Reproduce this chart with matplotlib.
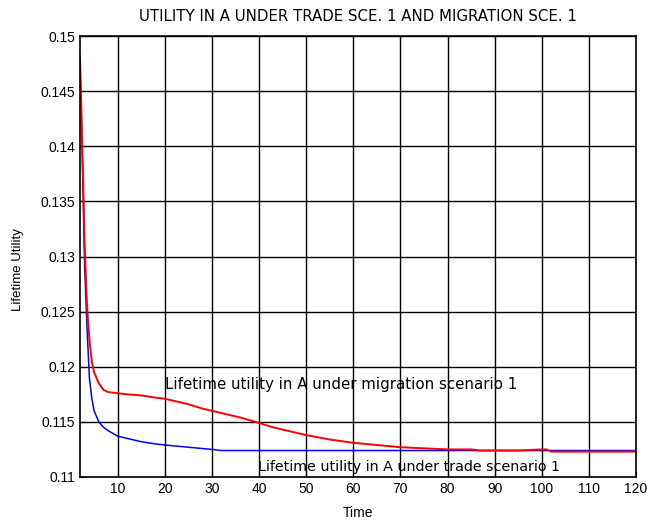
import numpy as np
import matplotlib.pyplot as plt

plt.rcParams['font.family'] = ['Liberation Sans', 'DejaVu Sans']

# migration scenario 1 (red)
mig_t = [2, 2.5, 3, 3.5, 4, 4.5, 5, 6, 7, 8, 10, 12, 15, 18, 20, 22, 25, 28, 30,
         33, 36, 40, 43, 47, 50, 55, 60, 65, 70, 75, 80, 85, 87, 95, 100, 101, 102, 120]
mig_u = [0.1482, 0.1400, 0.1310, 0.1255, 0.1225, 0.1205, 0.1195, 0.1185, 0.1179,
         0.1177, 0.1176, 0.1175, 0.1174, 0.1172, 0.1171, 0.1169, 0.1166, 0.1162,
         0.1160, 0.1157, 0.1154, 0.1149, 0.1145, 0.1141, 0.1138, 0.1134, 0.1131,
         0.1129, 0.1127, 0.1126, 0.1125, 0.1125, 0.1124, 0.1124, 0.1125, 0.1125,
         0.1123, 0.1123]

# trade scenario 1 (blue)
trade_t = [2, 2.5, 3, 3.5, 4, 4.5, 5, 6, 7, 8, 10, 12, 15, 18, 20, 25, 30, 32, 40, 120]
trade_u = [0.1475, 0.1390, 0.1290, 0.1235, 0.1190, 0.1172, 0.1160, 0.1150, 0.1145,
           0.1142, 0.1137, 0.1135, 0.1132, 0.1130, 0.1129, 0.1127, 0.1125, 0.1124,
           0.1124, 0.1124]

xticks = np.arange(10, 121, 10)
yticks = [0.11, 0.115, 0.12, 0.125, 0.13, 0.135, 0.14, 0.145, 0.15]
ytick_labels = ['0.11', '0.115', '0.12', '0.125', '0.13', '0.135', '0.14', '0.145', '0.15']

fig = plt.figure(figsize=(6.47, 5.23), dpi=100)
ax = fig.add_axes([0.1236, 0.088, 0.8594, 0.843])

ax.plot(trade_t, trade_u, color='blue', lw=1.1)
ax.plot(mig_t, mig_u, color='red', lw=1.4)

ax.set_xlim(2, 120)
ax.set_ylim(0.11, 0.15)
ax.set_xticks(xticks)
ax.set_yticks(yticks)
ax.set_yticklabels(ytick_labels)
ax.grid(True, color='black', linestyle='-', lw=1)
ax.tick_params(direction='in', length=4, labelsize=10, colors='black')
for s in ax.spines.values():
    s.set_linewidth(1.2)

ax.text(20, 0.1180, 'Lifetime utility in A under migration scenario 1',
        fontsize=10.8, family='DejaVu Sans')
ax.text(39.7, 0.1105, 'Lifetime utility in A under trade scenario 1',
        fontsize=10.3, family='DejaVu Sans')

ax.set_title('UTILITY IN A UNDER TRADE SCE. 1 AND MIGRATION SCE. 1',
             fontsize=10.8, pad=11, family='DejaVu Sans')
ax.set_xlabel('Time', fontsize=10)
ax.xaxis.set_label_coords(0.5, -0.066)
ax.set_ylabel('Lifetime Utility', fontsize=9.5)
ax.yaxis.set_label_coords(-0.1, 0.47)

fig.savefig('out.png', dpi=100)
